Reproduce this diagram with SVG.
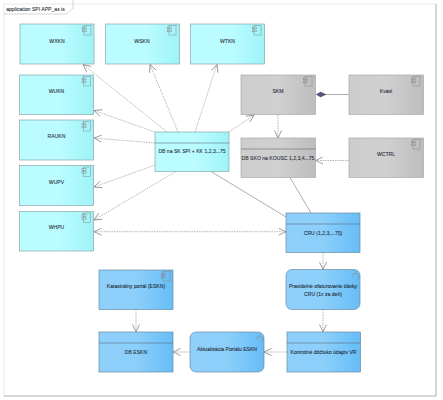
<svg xmlns="http://www.w3.org/2000/svg" width="443" height="400" viewBox="0 0 443 400">
<defs>
<linearGradient id="cy" x1="0" y1="0" x2="1" y2="0"><stop offset="0" stop-color="#bafcff"/><stop offset="0.55" stop-color="#bafcff"/><stop offset="1" stop-color="#9ef3f8"/></linearGradient>
<linearGradient id="gr" x1="0" y1="0" x2="1" y2="0"><stop offset="0" stop-color="#cdcdcd"/><stop offset="0.5" stop-color="#d0d0d0"/><stop offset="1" stop-color="#bdbdbd"/></linearGradient>
<linearGradient id="bl" x1="0" y1="0" x2="1" y2="0"><stop offset="0" stop-color="#8fd0fb"/><stop offset="0.5" stop-color="#8ccffb"/><stop offset="1" stop-color="#66bdf6"/></linearGradient>
<marker id="oa" markerWidth="10" markerHeight="8" refX="8.500" refY="4" orient="auto-start-reverse" markerUnits="userSpaceOnUse"><path d="M1 0.500L8.500 4L1 7.500" fill="none" stroke="#777" stroke-width="0.7"/></marker>
<marker id="dia" markerWidth="13" markerHeight="7" refX="0.500" refY="3.500" orient="auto" markerUnits="userSpaceOnUse"><path d="M0.500 3.500L5 0.800L11 3.500L5 6.200Z" fill="#55557a"/></marker>
<g id="cmp"><rect x="0" y="0" width="7" height="9.500" fill="none" stroke="#888" stroke-width="0.5"/><rect x="-1.500" y="1.500" width="4" height="1.800" fill="none" stroke="#888" stroke-width="0.5"/><rect x="-1.500" y="4.500" width="4" height="1.800" fill="none" stroke="#888" stroke-width="0.5"/></g>
<g id="proc"><path d="M0 5a3.500 3.500 0 1 1 5 3M2.500 -0.800l1.500 1.500l-1.500 1" fill="none" stroke="#888" stroke-width="0.5"/></g>
</defs>
<style>
text{font-family:"Liberation Sans",Arial,sans-serif;font-size:5.100px;fill:#1f2a35;text-anchor:middle;stroke:#1f2a35;stroke-width:0.080px}
.c{fill:url(#cy);stroke:#8aa5aa;stroke-width:0.700}
.g{fill:url(#gr);stroke:#a8a8a8;stroke-width:0.700}
.b{fill:url(#bl);stroke:#6b8aa5;stroke-width:0.700}
.d{stroke:#556;stroke-width:0.500;fill:none}
.l{fill:none;stroke:#888;stroke-width:0.600}
.da{stroke-dasharray:1.500 1;marker-end:url(#oa)}
.s{stroke:#999;stroke-width:0.800;fill:none}
</style>
<rect x="4" y="4" width="432" height="392" fill="#fff" stroke="#e4e4e4" stroke-width="0.800"/>
<path d="M436 4V396H4" fill="none" stroke="#aaa" stroke-width="0.800"/>
<path id="tab" d="M4 14H67L73 8V0" fill="none" stroke="#bbb" stroke-width="0.600"/>
<text x="35.500" y="11">application SPI APP_as is</text>

<g id="connectors">
<path class="l da" d="M167 132L83 64.500"/>
<path class="l da" d="M178 132L150 64.500"/>
<path class="l da" d="M195 132L217 64.500"/>
<path class="l da" d="M155 132L94 110.500"/>
<path class="l da" d="M155 143L94 138"/>
<path class="l da" d="M155 165L94 187"/>
<path class="l da" d="M176 171.500L94 220"/>
<path class="l da" d="M229 132L254 115"/>
<path class="l da" d="M278 115V138"/>
<path class="l da" d="M349 160.500H315.500"/>
<path class="l da" d="M94 231.700H286" marker-start="url(#oa)"/>
<path class="s" d="M211 171.500L286 217"/>
<path class="s" d="M290 177.500L311 213"/>
<path class="s" d="M316 94.500H349" stroke="#8a8aa0" marker-start="url(#dia)"/>
<path class="l da" d="M323 252.500V269.500"/>
<path class="l da" d="M323 309.500V332"/>
<path class="l da" d="M287 352H264"/>
<path class="l da" d="M190 352H173"/>
<path class="l da" d="M136 309.500V332"/>
</g>

<g id="WXKN"><rect class="c" x="20" y="24" width="74" height="40"/><use href="#cmp" x="84" y="25.500"/><text x="57" y="42.500">WXKN</text></g>
<g id="WSKN"><rect class="c" x="105.500" y="24" width="74" height="40"/><use href="#cmp" x="169" y="25.500"/><text x="142" y="42.500">WSKN</text></g>
<g id="WTKN"><rect class="c" x="190.500" y="24" width="74" height="40"/><use href="#cmp" x="254" y="25.500"/><text x="227.500" y="42.500">WTKN</text></g>
<g id="WUKN"><rect class="c" x="19.500" y="75" width="74" height="39.500"/><use href="#cmp" x="83.500" y="76.500"/><text x="56.500" y="93">WUKN</text></g>
<g id="RAUKN"><rect class="c" x="19.500" y="120" width="74" height="40"/><use href="#cmp" x="83.500" y="121.500"/><text x="56.500" y="138">RAUKN</text></g>
<g id="WUPV"><rect class="c" x="19.500" y="165.500" width="74" height="40"/><use href="#cmp" x="83.500" y="167"/><text x="56.500" y="183.500">WUPV</text></g>
<g id="WHPU"><rect class="c" x="19.500" y="211.500" width="74" height="39.500"/><use href="#cmp" x="83.500" y="213"/><text x="56.500" y="229">WHPU</text></g>
<g id="DB-SK"><rect class="c" x="155" y="132" width="74" height="39.500"/><path class="d" d="M155 143H229"/><text x="192" y="153">DB na SK SPI + KK 1,2,3...75</text></g>
<g id="SKM"><rect class="g" x="241" y="75" width="74.500" height="39.500"/><use href="#cmp" x="305" y="76.500"/><text x="278" y="93">SKM</text></g>
<g id="Kvasl"><rect class="g" x="349" y="75" width="74.500" height="39.500"/><use href="#cmp" x="413" y="76.500"/><text x="386" y="93">Kvásl</text></g>
<g id="DB-SKO"><rect class="g" x="241" y="138" width="74.500" height="39.500"/><path class="d" d="M241 149H315.500"/><text x="278" y="159.500">DB SKO na KOUSC 1,2,3,4...75</text></g>
<g id="WCTRL"><rect class="g" x="349" y="138" width="74.500" height="39.500"/><use href="#cmp" x="413" y="139.500"/><text x="386" y="156">WCTRL</text></g>
<g id="CRU"><rect class="b" x="286" y="213" width="74" height="39.500"/><path class="d" d="M286 224H360"/><text x="323" y="234.500">CRU (1,2,3,...75)</text></g>
<g id="Prevedenie"><rect class="b" x="286" y="269.500" width="74" height="40" rx="6"/><use href="#proc" x="352" y="272"/><text x="323" y="288">Pravidelné ofaturovanie dávky</text><text x="323" y="295.500">CRU (1x za deň)</text></g>
<g id="Kontrolne"><rect class="b" x="287" y="332" width="73.500" height="40"/><path class="d" d="M287 343H360.500"/><text x="323.500" y="353.500">Kontrolné dôčtuko údajov VR</text></g>
<g id="Aktualizacia"><rect class="b" x="190" y="332" width="74" height="40" rx="6"/><use href="#proc" x="256" y="335"/><text x="227" y="350.500">Aktualizácia Portálu ESKN</text></g>
<g id="DB-ESKN"><rect class="b" x="99" y="332" width="74" height="40"/><path class="d" d="M99 343H173"/><text x="136" y="353.500">DB ESKN</text></g>
<g id="Katastralny"><rect class="b" x="99" y="270" width="74" height="39.500"/><use href="#cmp" x="163" y="271.500"/><text x="136" y="288">Katastrálny portál (ESKN)</text></g>
</svg>
